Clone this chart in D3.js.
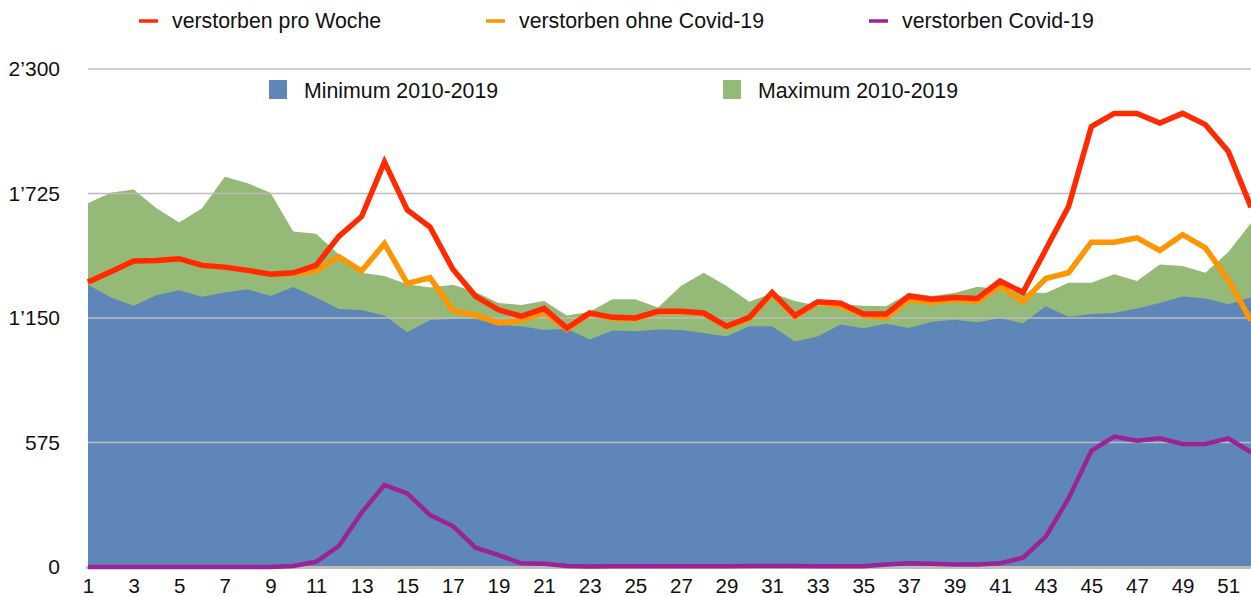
<!DOCTYPE html>
<html>
<head>
<meta charset="utf-8">
<script src="https://cdn.jsdelivr.net/npm/d3@7"></script>
<style>
  body { margin: 0; background: #fff; }
  text { font-family: "Liberation Sans", Arial, Helvetica, sans-serif; fill: #111; }
</style>
</head>
<body>
<script>
// Kalenderwochen
const weeks = [1,2,3,4,5,6,7,8,9,10,11,12,13,14,15,16,17,18,19,20,21,22,23,24,25,26,
  27,28,29,30,31,32,33,34,35,36,37,38,39,40,41,42,43,44,45,46,47,48,49,50,51,52];

const minimum = [1303,1245,1207,1255,1278,1248,1268,1283,1252,1293,1245,1191,1187,1161,1084,1141,
  1145,1145,1118,1112,1095,1100,1051,1092,1089,1097,1095,1081,1065,1112,1112,1042,1065,1120,
  1103,1123,1104,1133,1142,1130,1149,1126,1204,1156,1168,1173,1194,1219,1249,1240,1214,1245];

const maximum = [1680,1729,1744,1657,1591,1657,1802,1772,1729,1550,1539,1443,1359,1344,1306,1291,
  1303,1270,1219,1210,1229,1161,1179,1237,1237,1199,1298,1359,1298,1225,1265,1229,1207,1214,
  1207,1204,1265,1252,1265,1294,1283,1268,1265,1313,1313,1352,1321,1397,1390,1359,1454,1589];

const proWoche = [1316,1364,1413,1416,1424,1393,1385,1370,1352,1359,1393,1527,1619,1871,1649,1570,
  1375,1250,1188,1158,1194,1103,1173,1153,1150,1181,1181,1173,1112,1153,1268,1161,1225,1218,
  1168,1168,1252,1237,1245,1240,1321,1268,1466,1665,2034,2095,2095,2051,2095,2043,1920,1662];

const ohneCovid = [1316,1364,1413,1416,1424,1393,1385,1370,1352,1354,1367,1433,1367,1494,1310,1336,
  1184,1164,1127,1138,1176,1097,1170,1149,1147,1178,1178,1170,1108,1148,1263,1156,1221,1207,
  1161,1153,1234,1222,1234,1226,1298,1225,1332,1359,1500,1500,1520,1462,1535,1474,1326,1138];

const covid = [0,0,0,0,0,0,0,0,0,5,24,97,251,379,340,240,189,89,55,17,15,5,2,4,3,3,3,3,4,5,5,5,4,4,
  4,12,17,15,12,12,17,43,140,317,537,602,583,594,568,568,594,530];

const yTicks = [0, 575, 1150, 1725, 2300];
const xTicks = [1,3,5,7,9,11,13,15,17,19,21,23,25,27,29,31,33,35,37,39,41,43,45,47,49,51];

const W = 1251, H = 596;

const svg = d3.select("body").append("svg")
  .attr("width", W)
  .attr("height", H);

const x = d3.scaleLinear().domain([1, 52]).range([88, 1251]);
const y = d3.scaleLinear().domain([0, 2300]).range([567, 69]);

const fmt = v => d3.format(",")(v).replace(",", "\u2019");

// areas
const area = vals => d3.area()
  .x((d, i) => x(weeks[i]))
  .y0(y(0))
  .y1(d => y(d))(vals);

svg.append("path").attr("d", area(maximum)).attr("fill", "#95b977");
svg.append("path").attr("d", area(minimum)).attr("fill", "#5f86b8");

// gridlines
svg.append("g")
  .selectAll("line")
  .data(yTicks.filter(d => d > 0))
  .join("line")
  .attr("x1", 88).attr("x2", W)
  .attr("y1", d => y(d)).attr("y2", d => y(d))
  .attr("stroke", "#bdbdbd")
  .attr("stroke-width", 1.5);

svg.append("line")
  .attr("x1", 86).attr("x2", W)
  .attr("y1", y(0) + 0.5).attr("y2", y(0) + 0.5)
  .attr("stroke", "#bdbdbd")
  .attr("stroke-width", 3);

// y labels
svg.append("g")
  .selectAll("text")
  .data(yTicks)
  .join("text")
  .attr("x", 60)
  .attr("y", d => y(d))
  .attr("dy", "0.35em")
  .attr("text-anchor", "end")
  .style("font-size", "21px")
  .text(fmt);

// x labels
const xAxis = d3.axisBottom(x).tickValues(xTicks).tickSize(0).tickPadding(0);
const gx = svg.append("g")
  .attr("transform", "translate(0,577)")
  .call(xAxis);
gx.select(".domain").remove();
gx.selectAll("text")
  .attr("dy", "0.8em")
  .style("font-size", "20.5px")
  .style("font-family", "'Liberation Sans', Arial, sans-serif")
  .attr("fill", "#111");

// lines
const line = vals => d3.line()
  .x((d, i) => x(weeks[i]))
  .y(d => y(d))(vals);

svg.append("path").attr("d", line(ohneCovid))
  .attr("fill", "none").attr("stroke", "#ff9500").attr("stroke-width", 5.5)
  .attr("stroke-linejoin", "miter");
svg.append("path").attr("d", line(proWoche))
  .attr("fill", "none").attr("stroke", "#ff2a00").attr("stroke-width", 5.5)
  .attr("stroke-linejoin", "miter");
svg.append("path").attr("d", line(covid))
  .attr("fill", "none").attr("stroke", "#9b2394").attr("stroke-width", 4.5)
  .attr("stroke-linejoin", "miter");

// legend, line series
const lineLegend = [
  { name: "verstorben pro Woche", color: "#ff2a00", x: 139 },
  { name: "verstorben ohne Covid-19", color: "#ff9500", x: 486 },
  { name: "verstorben Covid-19", color: "#9b2394", x: 869 }
];
const lg = svg.append("g");
lg.selectAll("line")
  .data(lineLegend)
  .join("line")
  .attr("x1", d => d.x).attr("x2", d => d.x + 19)
  .attr("y1", 21).attr("y2", 21)
  .attr("stroke", d => d.color)
  .attr("stroke-width", 3.5);
lg.selectAll("text")
  .data(lineLegend)
  .join("text")
  .attr("x", d => d.x + 33)
  .attr("y", 28)
  .style("font-size", "21.3px")
  .text(d => d.name);

// legend, areas
const areaLegend = [
  { name: "Minimum 2010-2019", color: "#5f86b8", x: 269 },
  { name: "Maximum 2010-2019", color: "#95b977", x: 723 }
];
const ag = svg.append("g");
ag.selectAll("rect")
  .data(areaLegend)
  .join("rect")
  .attr("x", d => d.x).attr("y", 80)
  .attr("width", 18).attr("height", 19)
  .attr("fill", d => d.color);
ag.selectAll("text")
  .data(areaLegend)
  .join("text")
  .attr("x", d => d.x + 35)
  .attr("y", 98)
  .style("font-size", "21.3px")
  .text(d => d.name);
</script>
</body>
</html>
